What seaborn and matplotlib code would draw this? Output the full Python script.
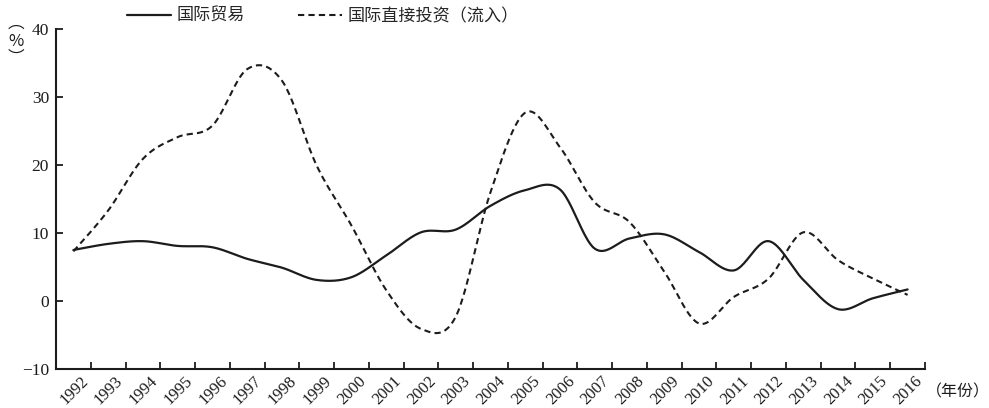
import numpy as np
import pandas as pd
import seaborn as sns
import matplotlib
matplotlib.use("Agg")
import matplotlib.pyplot as plt
from matplotlib.transforms import ScaledTranslation

# Annual growth rates (%), 1992-2016
years = list(range(1992, 2017))
trade = [7.5, 8.4, 8.8, 8.1, 7.9, 6.2, 4.9, 3.1, 3.5, 6.7, 10.1, 10.5, 14.0,
         16.3, 16.4, 7.7, 9.2, 9.8, 7.2, 4.5, 8.8, 3.1, -1.2, 0.4, 1.7]
fdi = [7.3, 13.3, 20.9, 24.1, 25.8, 34.1, 32.4, 19.9, 11.1, 1.6, -4.1, -2.3, 16.0,
       27.7, 22.6, 14.5, 11.6, 4.3, -3.3, 0.6, 3.3, 10.1, 6.0, 3.3, 0.9]
series_names = ["国际贸易", "国际直接投资（流入）"]
y_ticks = [-10, 0, 10, 20, 30, 40]


def catmull_rom(x, y, n=24):
    """Smooth curve through every (x, y) point, Catmull-Rom style."""
    x = np.asarray(x, float)
    y = np.asarray(y, float)
    px = np.concatenate([[x[0]], x, [x[-1]]])
    py = np.concatenate([[y[0]], y, [y[-1]]])
    out_x, out_y = [], []
    t = np.linspace(0, 1, n, endpoint=False)
    for i in range(1, len(px) - 2):
        for arr, out in ((px, out_x), (py, out_y)):
            p0, p1, p2, p3 = arr[i - 1], arr[i], arr[i + 1], arr[i + 2]
            out.extend(0.5 * (2 * p1 + (-p0 + p2) * t
                              + (2 * p0 - 5 * p1 + 4 * p2 - p3) * t ** 2
                              + (-p0 + 3 * p1 - 3 * p2 + p3) * t ** 3))
    out_x.append(x[-1])
    out_y.append(y[-1])
    return np.array(out_x), np.array(out_y)


sns.set_theme(style="white")
plt.rcParams["font.family"] = ["Liberation Serif", "Noto Sans CJK SC", "DejaVu Sans"]
plt.rcParams["axes.unicode_minus"] = True

fig = plt.figure(figsize=(9.89, 4.08), dpi=100)
ax = fig.add_axes([56 / 989, 1 - 369 / 408, (925 - 56) / 989, (369 - 29) / 408])

ink = "#1c1c1c"
tx, ty = catmull_rom(years, trade)
fx, fy = catmull_rom(years, fdi)
sns.lineplot(x=tx, y=ty, sort=False, estimator=None, ax=ax, color=ink,
             linewidth=1.6, label=series_names[0])
sns.lineplot(x=fx, y=fy, sort=False, estimator=None, ax=ax, color=ink,
             linewidth=1.5, linestyle=(0, (3, 2)), label=series_names[1])

ax.set_xlim(1991.5, 2016.5)
ax.set_ylim(-10, 40)
ax.set_yticks(y_ticks)
ax.set_yticklabels([f"{v}".replace("-", "\u2212") for v in y_ticks])
ax.set_xticks([yr + 0.5 for yr in years])
ax.set_xlabel("")
ax.set_ylabel("")

for side in ("top", "right"):
    ax.spines[side].set_visible(False)
for side in ("left", "bottom"):
    ax.spines[side].set_color(ink)
    ax.spines[side].set_linewidth(1.5)
ax.tick_params(axis="both", direction="in", length=5, width=1.3, color=ink,
               labelsize=12.5, labelcolor=ink, bottom=True, left=True)
ax.tick_params(axis="y", pad=5)
ax.tick_params(axis="x", pad=0, labelsize=12)

# rotated year labels, set after tick_params so their offset is kept
ax.set_xticklabels([str(yr) for yr in years], rotation=45, ha="right", va="center",
                   rotation_mode="anchor")
shift = ScaledTranslation(-5 / 100, -10 / 100, fig.dpi_scale_trans)
for lab in ax.get_xticklabels():
    lab.set_transform(lab.get_transform() + shift)

ax.get_legend().remove()
handles, labels = ax.get_legend_handles_labels()
fig.legend(handles, labels, loc="center left", bbox_to_anchor=(127 / 989, 1 - 16 / 408),
           ncol=2, frameon=False, borderpad=0, borderaxespad=0, handlelength=2.6,
           handletextpad=0.3, columnspacing=3.1,
           prop={"family": ["Noto Sans CJK SC"], "size": 12.3})

fig.text(16 / 989, 1 - 41 / 408, "\ufe35\n%\n\ufe36", ha="center", va="center",
         fontsize=12, color=ink, family=["Noto Sans CJK SC", "DejaVu Sans"],
         linespacing=1.05)
fig.text(926 / 989, 1 - 392 / 408, "（年份）", ha="left", va="center", fontsize=11.5,
         color=ink, family=["Noto Sans CJK SC", "DejaVu Sans"])

fig.savefig("out.png", dpi=100)
